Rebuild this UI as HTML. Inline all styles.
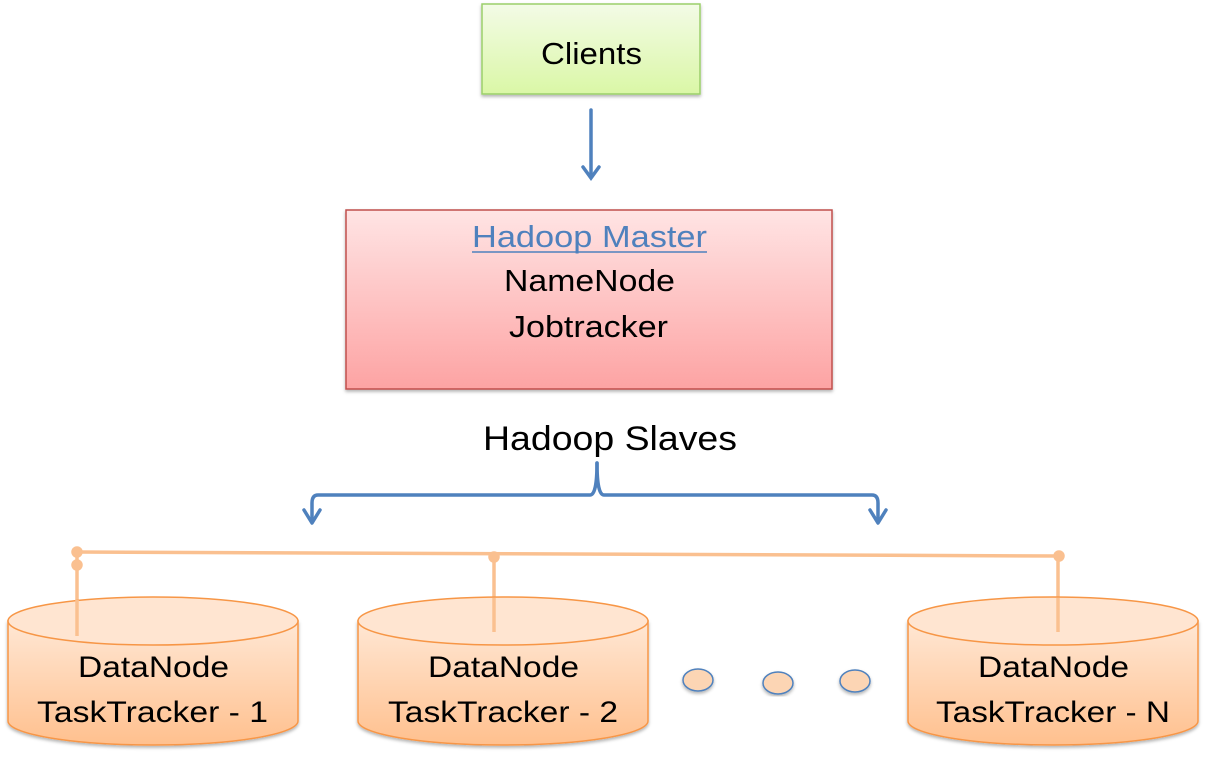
<!DOCTYPE html>
<html><head><meta charset="utf-8"><style>
html,body{margin:0;padding:0;background:#fff;}
svg{display:block;}
text{font-family:"Liberation Sans",sans-serif;}
</style></head><body>
<svg width="1206" height="761" viewBox="0 0 1206 761" xmlns="http://www.w3.org/2000/svg">
<defs>
<linearGradient id="g" x1="0" y1="0" x2="0" y2="1"><stop offset="0" stop-color="#f3fbe6"/><stop offset="1" stop-color="#daf7a6"/></linearGradient>
<linearGradient id="r" x1="0" y1="0" x2="0" y2="1"><stop offset="0" stop-color="#ffe4e4"/><stop offset="1" stop-color="#fda3a3"/></linearGradient>
<linearGradient id="o" x1="0" y1="0" x2="0" y2="1"><stop offset="0" stop-color="#ffe7d4"/><stop offset="1" stop-color="#ffc08e"/></linearGradient>
<filter id="s" x="-5%" y="-5%" width="110%" height="115%"><feDropShadow dx="0" dy="2" stdDeviation="1.5" flood-color="#000" flood-opacity="0.3"/></filter>
</defs>
<rect x="482" y="4" width="218" height="90" fill="url(#g)" stroke="#9bcf6a" stroke-width="1.5" filter="url(#s)"/>
<text x="541" y="64" font-size="31" textLength="101" lengthAdjust="spacingAndGlyphs">Clients</text>
<g stroke="#4f81bd" stroke-width="3.5" fill="none" stroke-linecap="round">
<line x1="591" y1="110" x2="591" y2="177"/>
<polyline points="583,167 591,178 599,167"/>
</g>
<rect x="346" y="210" width="486" height="179" fill="url(#r)" stroke="#c0504d" stroke-width="1.5" filter="url(#s)"/>
<text x="472" y="247" font-size="31" fill="#4f81bd" textLength="235" lengthAdjust="spacingAndGlyphs">Hadoop Master</text>
<line x1="472" y1="252" x2="707" y2="252" stroke="#4f81bd" stroke-width="1.5"/>
<text x="504" y="291" font-size="31" textLength="171" lengthAdjust="spacingAndGlyphs">NameNode</text>
<text x="509" y="337" font-size="31" textLength="159" lengthAdjust="spacingAndGlyphs">Jobtracker</text>
<text x="483" y="450" font-size="34" textLength="254" lengthAdjust="spacingAndGlyphs">Hadoop Slaves</text>
<g stroke="#4f81bd" stroke-width="3.5" fill="none" stroke-linecap="round" stroke-linejoin="round">
<path d="M597,463 Q597,495 590,495 L318,495 Q312,495 312,503 L312,522"/>
<path d="M597,463 Q597,495 604,495 L872,495 Q878,495 878,503 L878,522"/>
<polyline points="304,510 312,523 320,510"/>
<polyline points="870,510 878,523 886,510"/>
</g>
<g stroke="#fac090" stroke-width="3.5" fill="#fac090">
<line x1="77" y1="552" x2="1060" y2="556"/>
<line x1="77" y1="552" x2="77" y2="636"/>
<line x1="494" y1="556" x2="494" y2="632"/>
<line x1="1058" y1="556" x2="1058" y2="632"/>
<circle cx="77" cy="552" r="4"/><circle cx="77" cy="565" r="4"/>
<circle cx="494" cy="557" r="4"/><circle cx="1059" cy="556" r="4"/>
</g>
<g stroke="#f79646" stroke-width="1.5" filter="url(#s)">
<path d="M8,621 L8,721 A145,24 0 0 0 298,721 L298,621 Z" fill="url(#o)"/>
<path d="M358,621 L358,721 A145,24 0 0 0 648,721 L648,621 Z" fill="url(#o)"/>
<path d="M908,621 L908,721 A145,24 0 0 0 1198,721 L1198,621 Z" fill="url(#o)"/>
</g>
<g stroke="#f79646" stroke-width="1.5" fill="#ffe5d1">
<ellipse cx="153" cy="621" rx="145" ry="24"/>
<ellipse cx="503" cy="621" rx="145" ry="24"/>
<ellipse cx="1053" cy="621" rx="145" ry="24"/>
</g>
<g stroke="#fac090" stroke-width="3.5">
<line x1="77" y1="600" x2="77" y2="636"/>
<line x1="494" y1="598" x2="494" y2="632"/>
<line x1="1058" y1="598" x2="1058" y2="632"/>
</g>
<g font-size="30" lengthAdjust="spacingAndGlyphs">
<text x="78" y="677" textLength="151" lengthAdjust="spacingAndGlyphs">DataNode</text><text x="37" y="722" textLength="231" lengthAdjust="spacingAndGlyphs">TaskTracker - 1</text>
<text x="428" y="677" textLength="151" lengthAdjust="spacingAndGlyphs">DataNode</text><text x="388" y="722" textLength="230" lengthAdjust="spacingAndGlyphs">TaskTracker - 2</text>
<text x="978" y="677" textLength="151" lengthAdjust="spacingAndGlyphs">DataNode</text><text x="936" y="722" textLength="234" lengthAdjust="spacingAndGlyphs">TaskTracker - N</text>
</g>
<g fill="#fcd5b4" stroke="#4f81bd" stroke-width="1.5" filter="url(#s)">
<ellipse cx="698" cy="680" rx="15" ry="11"/>
<ellipse cx="778" cy="683" rx="15" ry="11"/>
<ellipse cx="855" cy="681" rx="15" ry="11"/>
</g>
</svg>
</body></html>
